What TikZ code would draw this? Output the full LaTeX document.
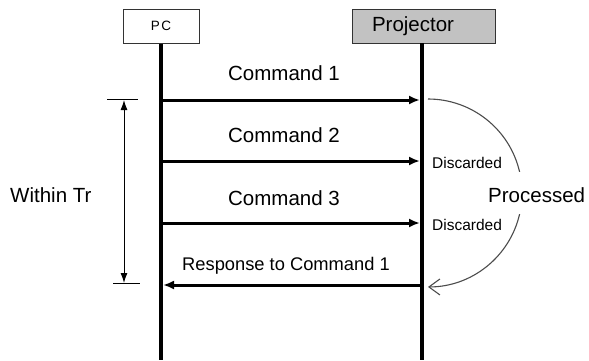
\documentclass[tikz,border=0pt]{standalone}
\usepackage{fontspec}
\setmainfont{Liberation Sans}
\usetikzlibrary{arrows.meta}
\begin{document}
\begin{tikzpicture}[x=1pt,y=-1pt,
  box/.style={draw=black!80, line width=1pt, minimum height=34pt, inner ysep=0pt},
  life/.style={line width=3.5pt},
  msg/.style={line width=3pt, -{Latex[length=11pt,width=9pt]}},
  lbl/.style={font=\fontsize{20.5}{24}\selectfont, anchor=base, inner sep=0pt},
  rlbl/.style={font=\fontsize{18.3}{22}\selectfont, anchor=base, inner sep=0pt},
  slbl/.style={font=\fontsize{15.5}{18}\selectfont, anchor=base west, inner sep=0pt},
  proc/.style={draw=black!70, line width=1.1pt},
  dim/.style={line width=1pt, {Latex[length=10pt,width=7pt]}-{Latex[length=10pt,width=7pt]}},
  tick/.style={line width=1pt}
]
\useasboundingbox (0,0) rectangle (589,360);
% boxes
\node[box, minimum width=76pt, inner xsep=0pt] (pc) at (161,26)
  {\fontsize{13.5}{15}\selectfont\addfontfeature{LetterSpace=10}PC};
\node[box, fill=black!24, text width=103pt, inner xsep=20pt, align=left] (pj) at (423.5,26)
  {\fontsize{20.5}{24}\selectfont Projector};
% lifelines
\coordinate (pcBot) at (161,360);
\coordinate (pjTop) at (422,43);
\coordinate (pjBot) at (422,360);
\draw[life] (pc.south) -- (pcBot);
\draw[life] (pjTop) -- (pjBot);
% messages
\coordinate (c1s) at (161,100); \coordinate (c1e) at (420,100);
\coordinate (c2s) at (161,161); \coordinate (c2e) at (420,161);
\coordinate (c3s) at (161,223); \coordinate (c3e) at (420,223);
\coordinate (rs) at (422,285);  \coordinate (re) at (163,285);
\draw[msg] (c1s) -- (c1e);
\draw[msg] (c2s) -- (c2e);
\draw[msg] (c3s) -- (c3e);
\draw[msg] (rs) -- (re);
\node[lbl] (t1) at (284,80) {Command 1};
\node[lbl] (t2) at (284,142) {Command 2};
\node[lbl] (t3) at (284,205) {Command 3};
\node[rlbl] (tr) at (286,270) {Response to Command 1};
\node[slbl] (d1) at (432,168) {Discarded};
\node[slbl] (d2) at (432,230) {Discarded};
\node[lbl, anchor=base west] (pr) at (488,202) {Processed};
% processed arc
\coordinate (arcA) at (428,99);
\coordinate (arcB) at (519.6,214.1);
\draw[proc] (arcA) arc[start angle=-90, end angle=-13, radius=94];
\draw[proc, -{Straight Barb[length=11pt,width=16pt]}] (arcB) arc[start angle=13, end angle=90, radius=94];
% Tr dimension
\coordinate (dimTop) at (124,100);
\coordinate (dimBot) at (124,283);
\coordinate (tkA1) at (107,99); \coordinate (tkA2) at (138,99);
\coordinate (tkB1) at (113,283); \coordinate (tkB2) at (140,283);
\draw[tick] (tkA1) -- (tkA2);
\draw[tick] (tkB1) -- (tkB2);
\draw[dim] (dimTop) -- (dimBot);
\node[lbl, anchor=base west] (wt) at (10,202) {Within Tr};
\end{tikzpicture}
\end{document}
